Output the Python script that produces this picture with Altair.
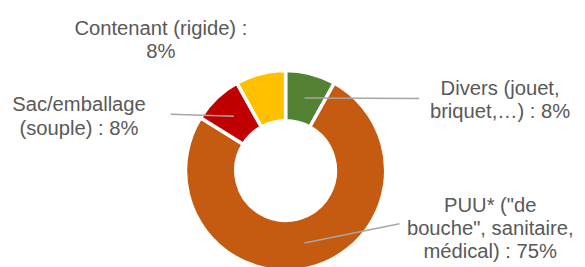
import altair as alt
import pandas as pd

# ---- data ----
categories = ["Divers", "PUU", "Sac", "Contenant"]
values = [8, 75, 8, 8]
labels = [
    "Divers (jouet,\nbriquet,…) : 8%",
    "PUU* (\"de\nbouche\", sanitaire,\nmédical) : 75%",
    "Sac/emballage\n(souple) : 8%",
    "Contenant (rigide) :\n8%",
]
colors = ["#548235", "#C55A11", "#C00000", "#FFC000"]

# ---- layout (chart pixel coordinates) ----
CX, CY = 281.5, 163
R_OUT, R_IN = 101.5, 50.5
R_MID = 76
label_x = [499, 489, 72, 155]
label_y = [86.3, 205, 103, 25.3]
leader_end_x = [417, 397, 165, None]
leader_end_y = [90, 217, 106, None]

df = pd.DataFrame({
    "order": list(range(len(categories))),
    "category": categories,
    "value": values,
    "label": labels,
    "lx": label_x,
    "ly": label_y,
    "ex": leader_end_x,
    "ey": leader_end_y,
})

base = alt.Chart(df)

arcs = base.mark_arc(
    outerRadius=R_OUT, innerRadius=R_IN, stroke="white", strokeWidth=3.5
).encode(
    theta=alt.Theta("value:Q", stack=True),
    order=alt.Order("order:Q"),
    color=alt.Color("category:N", scale=alt.Scale(domain=categories, range=colors), legend=None),
    x=alt.value(CX),
    y=alt.value(CY),
)

leaders = base.transform_joinaggregate(
    total="sum(value)"
).transform_window(
    cum="sum(value)", sort=[alt.SortField("order")], frame=[None, 0]
).transform_calculate(
    mid="(datum.cum - datum.value/2) / datum.total * 2 * PI",
    sx=f"{CX} + {R_MID} * sin(datum.mid)",
    sy=f"{CY} - {R_MID} * cos(datum.mid)",
).transform_filter(
    "isValid(datum.ex)"
).mark_rule(color="#A6A6A6", strokeWidth=1.5).encode(
    x=alt.X("sx:Q", scale=None, axis=None),
    y=alt.Y("sy:Q", scale=None, axis=None),
    x2="ex:Q",
    y2="ey:Q",
)

texts = base.mark_text(
    font="Liberation Sans", fontSize=20.5, color="#595959",
    lineBreak="\n", lineHeight=23.5, align="center", baseline="alphabetic",
).encode(
    x=alt.X("lx:Q", scale=None, axis=None),
    y=alt.Y("ly:Q", scale=None, axis=None),
    text="label:N",
)

chart = alt.layer(arcs, leaders, texts).properties(
    width=577, height=259, padding=0, autosize="none"
).configure_view(stroke=None)

chart.save("out.html", embed_options={"renderer": "svg", "actions": False})
